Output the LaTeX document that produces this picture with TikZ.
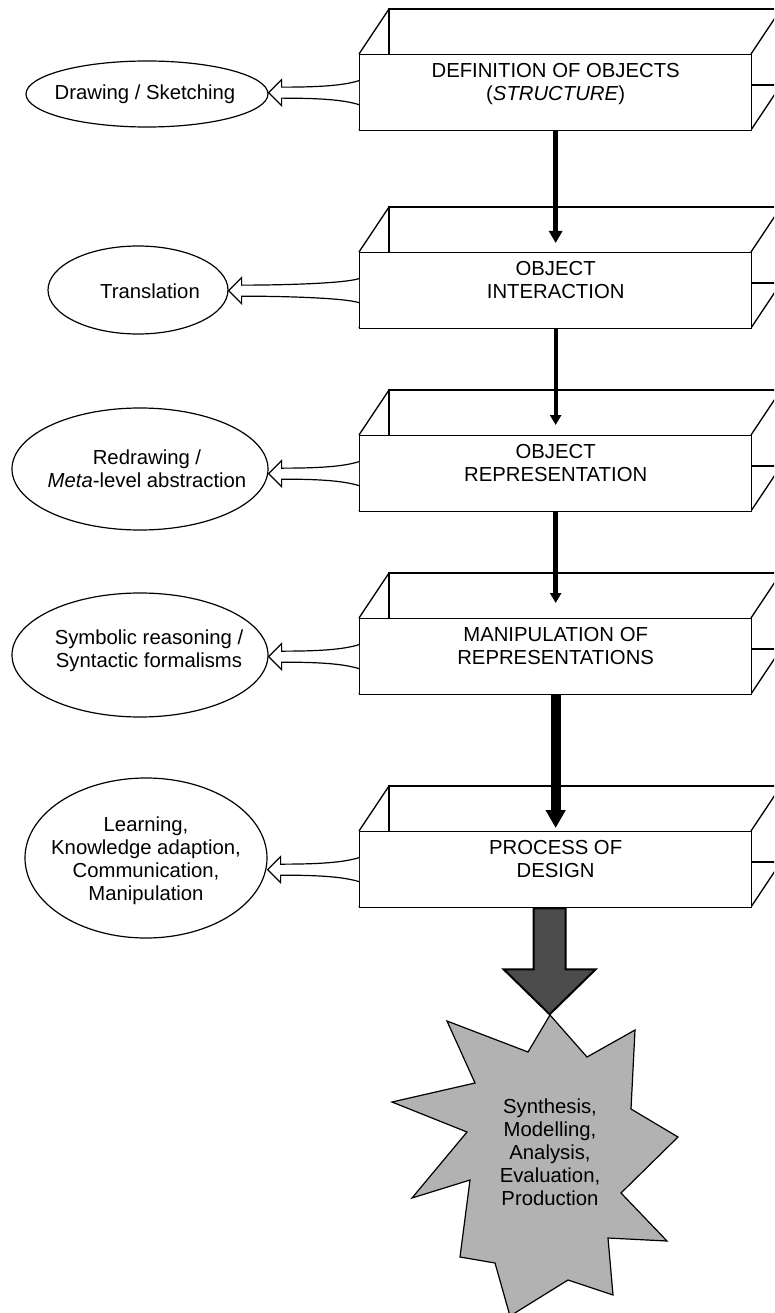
\documentclass[tikz,border=0pt]{standalone}
\usepackage{fontspec}
\setmainfont{Liberation Sans}
\usetikzlibrary{arrows.meta,calc,shapes.geometric}

\definecolor{stargray}{gray}{0.70}
\definecolor{blockgray}{gray}{0.30}

\tikzset{
  txt/.style={font=\fontsize{20.3}{23}\selectfont, align=center, inner sep=0pt},
  edge/.style={line width=1.3pt, line join=miter},
  face/.style={edge, draw, fill=white, minimum width=392pt, minimum height=76pt,
               inner sep=0pt, anchor=north west},
  bubble/.style={draw, ellipse, line width=1.2pt, inner sep=0pt},
  link/.style={draw, line cap=butt},
  hollow/.style={draw, fill=white, line width=1.2pt, line join=miter},
}

% A tray: back face and depth edges, then the opaque front face with its title
\newcommand{\tray}[3]{%
  \draw[edge] (389,#2-45) rectangle (781,#2+31);
  \draw[edge] (359,#2) -- (389,#2-45)  (751,#2) -- (781,#2-45)
              (751,#2+76) -- (781,#2+31)  (359,#2+76) -- (389,#2+31);
  \node[face] (#1) at (359,#2) {};
  \node[txt, anchor=north] (#1t) at ($(#1.north)+(0,9)$) {#3};
}

% Flared hollow arrow from a tray's front face to an ellipse
\newcommand{\feed}[2]{%
  \coordinate (B) at (#1.west);
  \coordinate (T) at (#2.east |- #1.west);
  \draw[hollow] ($(B)+(0,-12)$) .. controls ($(B)+(-16,-7)$) and ($(T)+(50,-5.5)$) .. ($(T)+(13,-5.5)$)
     -- ($(T)+(13,-13)$) -- (T) -- ($(T)+(13,13)$) -- ($(T)+(13,5.5)$)
     .. controls ($(T)+(50,5.5)$) and ($(B)+(-16,7)$) .. ($(B)+(0,12)$);
}

\begin{document}
\begin{tikzpicture}[x=1pt,y=-1pt]
\clip (0,0) rectangle (774,1313);
\fill[white] (0,0) rectangle (774,1313);

% trays
\tray{b1}{54}{DEFINITION OF OBJECTS\\(\textit{STRUCTURE})}
\tray{b2}{252}{OBJECT\\INTERACTION}
\tray{b3}{435}{OBJECT\\REPRESENTATION}
\tray{b4}{618}{MANIPULATION OF\\REPRESENTATIONS}
\tray{b5}{831}{PROCESS OF\\DESIGN}

% flow between trays
\draw[link, line width=5pt, -{Triangle[length=12pt,width=13pt]}] (b1.south) -- ($(b2.north)+(0,-9)$);
\draw[link, line width=4pt, -{Triangle[length=10pt,width=11pt]}] (b2.south) -- ($(b3.north)+(0,-10)$);
\draw[link, line width=5pt, -{Triangle[length=10pt,width=11pt]}] (b3.south) -- ($(b4.north)+(0,-15)$);
\draw[link, line width=10pt, -{Triangle[length=18pt,width=19pt]}] (b4.south) -- ($(b5.north)+(0,-3)$);

% ellipses
\node[bubble, minimum width=242pt, minimum height=66pt] (e1) at (147,94) {};
\node[txt] (e1t) at (145,94) {Drawing / Sketching};
\node[bubble, minimum width=180pt, minimum height=88pt] (e2) at (138,290) {};
\node[txt] (e2t) at (150,291) {Translation};
\node[bubble, minimum width=256pt, minimum height=122pt] (e3) at (140,469) {};
\node[txt] (e3t) at (147,469) {Redrawing /\\\textit{Meta}-level abstraction};
\node[bubble, minimum width=256pt, minimum height=124pt] (e4) at (140,655) {};
\node[txt] (e4t) at (149,651) {Symbolic reasoning /\\Syntactic formalisms};
\node[bubble, minimum width=242pt, minimum height=160pt] (e5) at (146,858) {};
\node[txt] (e5t) at (146,861) {Learning,\\Knowledge adaption,\\Communication,\\Manipulation};

\feed{b1}{e1}
\feed{b2}{e2}
\feed{b3}{e3}
\feed{b4}{e4}
\feed{b5}{e5}

% star of outcomes
\draw[line width=1.2pt, fill=stargray, line join=miter]
  (550,1015) -- (587,1057) -- (635,1030) -- (631,1109) -- (678,1137) -- (621,1193)
  -- (667,1241) -- (608,1238) -- (613,1295) -- (568,1280) -- (510,1316) -- (495,1263)
  -- (460,1257) -- (470,1180) -- (412,1198) -- (467,1132) -- (392,1102) -- (475,1083)
  -- (447,1021) -- (528,1052) -- cycle;
\node[txt] (st) at (550,1152) {Synthesis,\\Modelling,\\Analysis,\\Evaluation,\\Production};

% block arrow from design to outcomes
\coordinate (p) at ($(b5.south)+(-6,0)$);
\draw[line width=2pt, fill=blockgray, line join=miter]
  ($(p)+(-16,0)$) -- ($(p)+(-16,61)$) -- ($(p)+(-46,61)$) -- ($(p)+(0,106)$)
  -- ($(p)+(46,61)$) -- ($(p)+(16,61)$) -- ($(p)+(16,0)$) -- cycle;
\end{tikzpicture}
\end{document}
